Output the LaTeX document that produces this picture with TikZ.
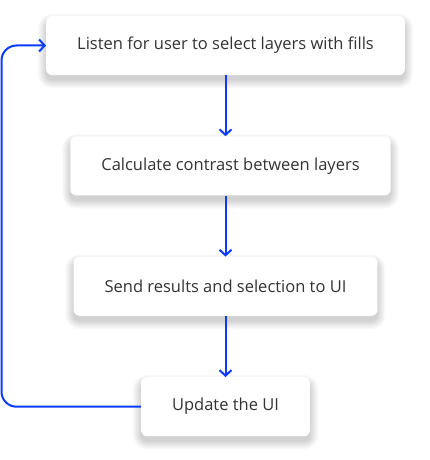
\documentclass[tikz,border=0pt]{standalone}
\usepackage{fontspec}
\setmainfont{Open Sans}
\usetikzlibrary{arrows.meta,positioning,backgrounds}
\definecolor{flowblue}{HTML}{0A3CFF}
\definecolor{textgray}{HTML}{333333}

\begin{document}
\begin{tikzpicture}[x=1pt,y=-1pt]
	\fontsize{16.5}{19}\selectfont
	\newcommand\gap{61pt}
	\newcommand\hei{59pt}
	\newcommand\padx{31pt}
	\tikzset{
		stepbox/.style={
			fill=white, rounded corners=6pt, minimum height=\hei,
			inner xsep=\padx, text=textgray,
		},
		softshade/.style={fill=black, opacity=0.018},
		flow/.style={draw=flowblue, line width=2pt,
			-{Straight Barb[length=5.5pt,width=12pt]}},
	}
	\useasboundingbox (0,0) rectangle (429,460);
	% steps
	\node[stepbox] (listen) at (225.5,45.5) {Listen for user to select layers with fills};
	\node[stepbox, below=\gap of listen, xshift=5pt] (calc) {Calculate contrast between layers};
	\node[stepbox, below=\gap of calc, xshift=-5pt] (send) {Send results and selection to UI};
	\node[stepbox, below=\gap of send] (update) {Update the UI};
	% soft shadows
	\begin{scope}[on background layer]
		\fill[white] (0,0) rectangle (429,460);
		\foreach \n in {listen,calc,send,update}
			\foreach \i in {0,...,8}
				\fill[softshade, rounded corners=6pt+\i pt]
					([shift={(-\i pt,\i pt-6pt)}]\n.north west)
					rectangle ([shift={(\i pt,-\i pt-5pt)}]\n.south east);
	\end{scope}
	% loop back
	\coordinate (back) at (1.5,230);

	\draw[flow] (listen.south) -- (listen.south |- calc.north);
	\draw[flow] (calc.south -| listen.south) -- (listen.south |- send.north);
	\draw[flow] (send.south) -- (update.north);
	\draw[flow, rounded corners=15pt] (update.west) -| (back) |- (listen.west);
\end{tikzpicture}
\end{document}
